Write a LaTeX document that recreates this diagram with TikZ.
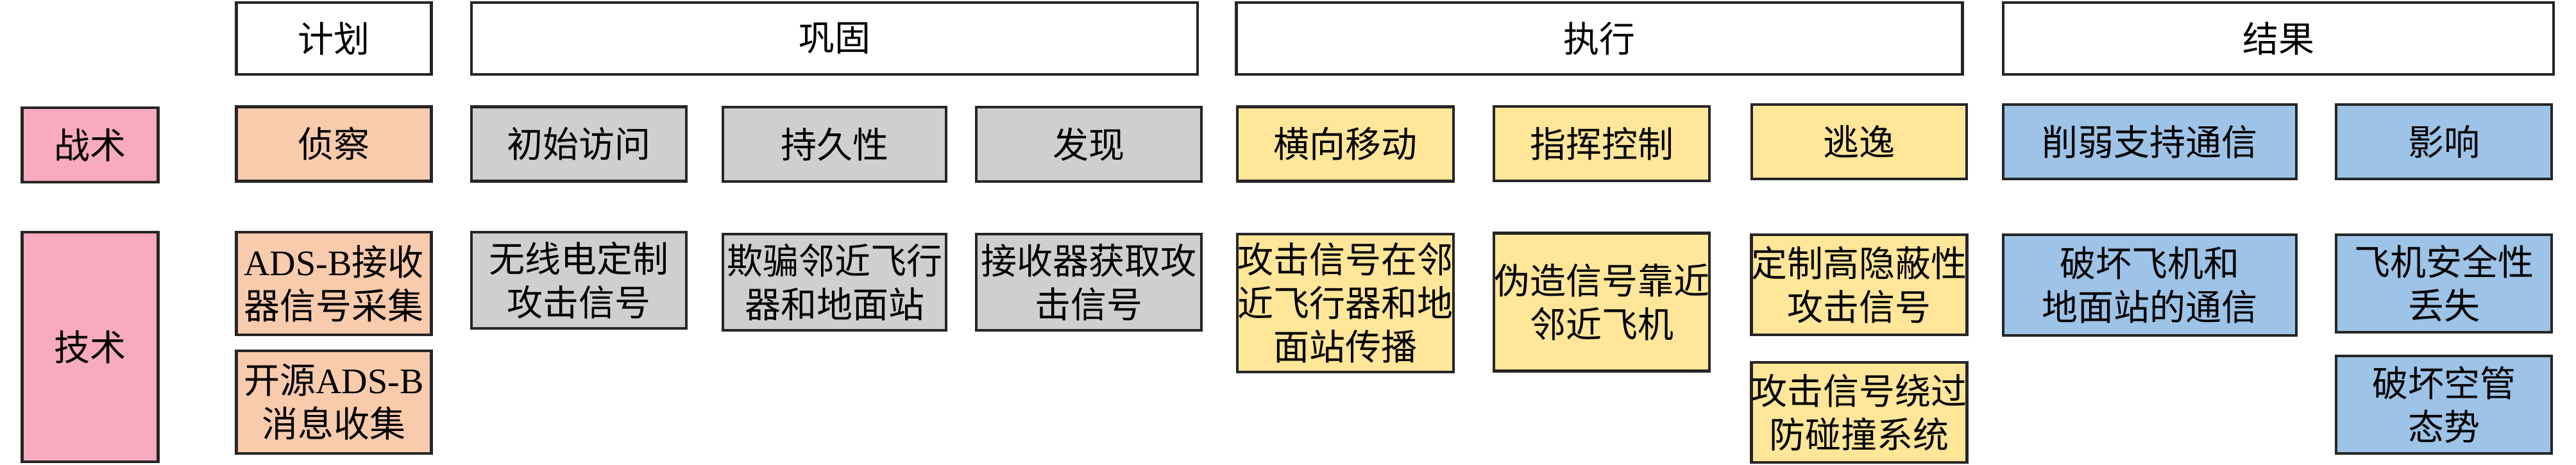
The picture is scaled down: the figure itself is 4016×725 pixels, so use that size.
\documentclass[tikz,border=0pt]{standalone}
\usepackage{fontspec}
\setmainfont{Liberation Serif}
\newfontfamily\cjk{Noto Sans CJK SC}
\definecolor{rowpink}{RGB}{248,170,190}
\definecolor{planpeach}{RGB}{248,203,173}
\definecolor{consgray}{RGB}{208,206,206}
\definecolor{execyellow}{RGB}{255,230,153}
\definecolor{resblue}{RGB}{157,195,230}

\begin{document}
\begin{tikzpicture}[x=0.25pt,y=-0.25pt,
  cell/.style={draw=black!85,line width=1.1pt,inner sep=0pt,align=center,
    font=\cjk\fontsize{14pt}{17pt}\selectfont},
  head/.style={cell,fill=white,minimum height=28pt},
  tac/.style={cell,minimum height=29pt},
  plan/.style={cell,fill=planpeach},
  cons/.style={cell,fill=consgray},
  exec/.style={cell,fill=execyellow},
  res/.style={cell,fill=resblue}]
  \useasboundingbox (0,0) rectangle (4016,725);

  \node[head,minimum width=76pt] (hplan) at (520.5,60) {计划};
  \node[head,minimum width=283pt] (hcons) at (1301,60) {巩固};
  \node[head,minimum width=283pt] (hexec) at (2493.5,60) {执行};
  \node[head,minimum width=214.5pt] (hres) at (3552,60) {结果};

  \node[cell,fill=rowpink,minimum width=53pt,minimum height=29pt] (tactic) at (140.5,226) {战术};
  \node[cell,fill=rowpink,minimum width=53pt,minimum height=89.5pt] (tech) at (140.5,541) {技术};

  \node[tac,plan,minimum width=76pt] (recon) at (520.5,224.5) {侦察};
  \node[tac,cons,minimum width=83.75pt] (access) at (902.5,224.5) {初始访问};
  \node[tac,cons,minimum width=87pt] (persist) at (1301,225) {持久性};
  \node[tac,cons,minimum width=87.75pt] (discover) at (1697.5,225) {发现};
  \node[tac,exec,minimum width=84.25pt] (lateral) at (2097.5,224.5) {横向移动};
  \node[tac,exec,minimum width=84pt] (command) at (2497,224) {指挥控制};
  \node[tac,exec,minimum width=83.75pt] (evade) at (2898.5,221) {逃逸};
  \node[tac,res,minimum width=114.25pt] (weaken) at (3351.5,221) {削弱支持通信};
  \node[tac,res,minimum width=84pt] (impact) at (3810,221) {影响};

  \node[plan,minimum width=76pt,minimum height=40pt] (collect) at (520.5,442) {{\rmfamily ADS-B}接收\\器信号采集};
  \node[plan,minimum width=76pt,minimum height=40pt] (opensrc) at (520.5,627) {开源{\rmfamily ADS-B}\\消息收集};
  \node[cons,minimum width=83.75pt,minimum height=37.5pt] (radio) at (902.5,437) {无线电定制\\攻击信号};
  \node[cons,minimum width=87pt,minimum height=37.5pt] (spoof) at (1301,440) {欺骗邻近飞行\\器和地面站};
  \node[cons,minimum width=87.75pt,minimum height=37.5pt] (receive) at (1697.5,440) {接收器获取攻\\击信号};
  \node[exec,minimum width=84.25pt,minimum height=53.75pt] (spread) at (2097.5,472.5) {攻击信号在邻\\近飞行器和地\\面站传播};
  \node[exec,minimum width=84pt,minimum height=53.75pt] (forge) at (2497,471) {伪造信号靠近\\邻近飞机};
  \node[exec,minimum width=83.75pt,minimum height=39pt] (stealth) at (2898.5,444) {定制高隐蔽性\\攻击信号};
  \node[exec,minimum width=83.75pt,minimum height=39pt] (bypass) at (2898.5,643) {攻击信号绕过\\防碰撞系统};
  \node[res,minimum width=114.25pt,minimum height=39.25pt] (disrupt) at (3351.5,444.5) {破坏飞机和\\地面站的通信};
  \node[res,minimum width=84pt,minimum height=38pt] (safety) at (3810,442) {飞机安全性\\丢失};
  \node[res,minimum width=84pt,minimum height=38pt] (atc) at (3810,631) {破坏空管\\态势};
\end{tikzpicture}
\end{document}
